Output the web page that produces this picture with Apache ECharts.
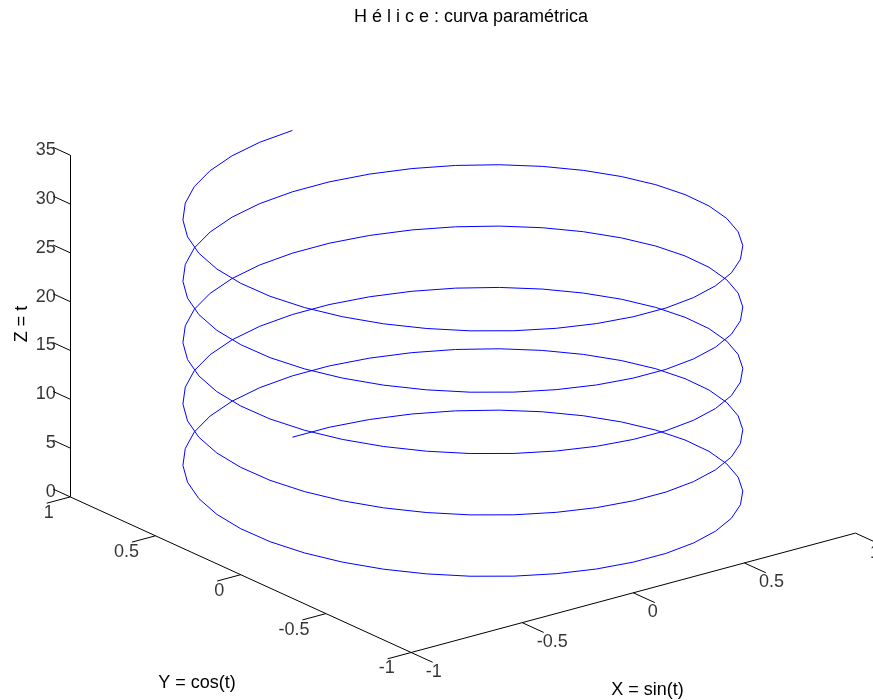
<!DOCTYPE html>
<html>
<head>
<meta charset="utf-8">
<script src="https://cdn.jsdelivr.net/npm/echarts@6/dist/echarts.min.js"></script>
<style>
  html, body { margin: 0; padding: 0; background: #ffffff; }
  #chart { width: 873px; height: 700px; }
</style>
</head>
<body>
<div id="chart"></div>
<script>
// Helix samples: X = sin(t), Y = cos(t), Z = t, five turns, 40 samples per turn
const helixX = [
  0, 0.156, 0.309, 0.454, 0.588, 0.707, 0.809, 0.891, 0.951, 0.988, 1, 0.988, 0.951, 0.891, 0.809, 0.707, 0.588, 0.454, 0.309, 0.156,
  0, -0.156, -0.309, -0.454, -0.588, -0.707, -0.809, -0.891, -0.951, -0.988, -1, -0.988, -0.951, -0.891, -0.809, -0.707, -0.588, -0.454, -0.309, -0.156,
  0, 0.156, 0.309, 0.454, 0.588, 0.707, 0.809, 0.891, 0.951, 0.988, 1, 0.988, 0.951, 0.891, 0.809, 0.707, 0.588, 0.454, 0.309, 0.156,
  0, -0.156, -0.309, -0.454, -0.588, -0.707, -0.809, -0.891, -0.951, -0.988, -1, -0.988, -0.951, -0.891, -0.809, -0.707, -0.588, -0.454, -0.309, -0.156,
  0, 0.156, 0.309, 0.454, 0.588, 0.707, 0.809, 0.891, 0.951, 0.988, 1, 0.988, 0.951, 0.891, 0.809, 0.707, 0.588, 0.454, 0.309, 0.156,
  0, -0.156, -0.309, -0.454, -0.588, -0.707, -0.809, -0.891, -0.951, -0.988, -1, -0.988, -0.951, -0.891, -0.809, -0.707, -0.588, -0.454, -0.309, -0.156,
  0, 0.156, 0.309, 0.454, 0.588, 0.707, 0.809, 0.891, 0.951, 0.988, 1, 0.988, 0.951, 0.891, 0.809, 0.707, 0.588, 0.454, 0.309, 0.156,
  0, -0.156, -0.309, -0.454, -0.588, -0.707, -0.809, -0.891, -0.951, -0.988, -1, -0.988, -0.951, -0.891, -0.809, -0.707, -0.588, -0.454, -0.309, -0.156,
  0, 0.156, 0.309, 0.454, 0.588, 0.707, 0.809, 0.891, 0.951, 0.988, 1, 0.988, 0.951, 0.891, 0.809, 0.707, 0.588, 0.454, 0.309, 0.156,
  0, -0.156, -0.309, -0.454, -0.588, -0.707, -0.809, -0.891, -0.951, -0.988, -1, -0.988, -0.951, -0.891, -0.809, -0.707, -0.588, -0.454, -0.309, -0.156,
  0
];
const helixY = [
  1, 0.988, 0.951, 0.891, 0.809, 0.707, 0.588, 0.454, 0.309, 0.156, 0, -0.156, -0.309, -0.454, -0.588, -0.707, -0.809, -0.891, -0.951, -0.988,
  -1, -0.988, -0.951, -0.891, -0.809, -0.707, -0.588, -0.454, -0.309, -0.156, 0, 0.156, 0.309, 0.454, 0.588, 0.707, 0.809, 0.891, 0.951, 0.988,
  1, 0.988, 0.951, 0.891, 0.809, 0.707, 0.588, 0.454, 0.309, 0.156, 0, -0.156, -0.309, -0.454, -0.588, -0.707, -0.809, -0.891, -0.951, -0.988,
  -1, -0.988, -0.951, -0.891, -0.809, -0.707, -0.588, -0.454, -0.309, -0.156, 0, 0.156, 0.309, 0.454, 0.588, 0.707, 0.809, 0.891, 0.951, 0.988,
  1, 0.988, 0.951, 0.891, 0.809, 0.707, 0.588, 0.454, 0.309, 0.156, 0, -0.156, -0.309, -0.454, -0.588, -0.707, -0.809, -0.891, -0.951, -0.988,
  -1, -0.988, -0.951, -0.891, -0.809, -0.707, -0.588, -0.454, -0.309, -0.156, 0, 0.156, 0.309, 0.454, 0.588, 0.707, 0.809, 0.891, 0.951, 0.988,
  1, 0.988, 0.951, 0.891, 0.809, 0.707, 0.588, 0.454, 0.309, 0.156, 0, -0.156, -0.309, -0.454, -0.588, -0.707, -0.809, -0.891, -0.951, -0.988,
  -1, -0.988, -0.951, -0.891, -0.809, -0.707, -0.588, -0.454, -0.309, -0.156, 0, 0.156, 0.309, 0.454, 0.588, 0.707, 0.809, 0.891, 0.951, 0.988,
  1, 0.988, 0.951, 0.891, 0.809, 0.707, 0.588, 0.454, 0.309, 0.156, 0, -0.156, -0.309, -0.454, -0.588, -0.707, -0.809, -0.891, -0.951, -0.988,
  -1, -0.988, -0.951, -0.891, -0.809, -0.707, -0.588, -0.454, -0.309, -0.156, 0, 0.156, 0.309, 0.454, 0.588, 0.707, 0.809, 0.891, 0.951, 0.988,
  1
];
const helixZ = [
  0, 0.157, 0.314, 0.471, 0.628, 0.785, 0.942, 1.100, 1.257, 1.414, 1.571, 1.728, 1.885, 2.042, 2.199, 2.356, 2.513, 2.670, 2.827, 2.985,
  3.142, 3.299, 3.456, 3.613, 3.770, 3.927, 4.084, 4.241, 4.398, 4.555, 4.712, 4.869, 5.027, 5.184, 5.341, 5.498, 5.655, 5.812, 5.969, 6.126,
  6.283, 6.440, 6.597, 6.754, 6.912, 7.069, 7.226, 7.383, 7.540, 7.697, 7.854, 8.011, 8.168, 8.325, 8.482, 8.639, 8.796, 8.954, 9.111, 9.268,
  9.425, 9.582, 9.739, 9.896, 10.053, 10.210, 10.367, 10.524, 10.681, 10.838, 10.996, 11.153, 11.310, 11.467, 11.624, 11.781, 11.938, 12.095, 12.252, 12.409,
  12.566, 12.723, 12.881, 13.038, 13.195, 13.352, 13.509, 13.666, 13.823, 13.980, 14.137, 14.294, 14.451, 14.608, 14.765, 14.923, 15.080, 15.237, 15.394, 15.551,
  15.708, 15.865, 16.022, 16.179, 16.336, 16.493, 16.650, 16.808, 16.965, 17.122, 17.279, 17.436, 17.593, 17.750, 17.907, 18.064, 18.221, 18.378, 18.535, 18.692,
  18.850, 19.007, 19.164, 19.321, 19.478, 19.635, 19.792, 19.949, 20.106, 20.263, 20.420, 20.577, 20.735, 20.892, 21.049, 21.206, 21.363, 21.520, 21.677, 21.834,
  21.991, 22.148, 22.305, 22.462, 22.619, 22.777, 22.934, 23.091, 23.248, 23.405, 23.562, 23.719, 23.876, 24.033, 24.190, 24.347, 24.504, 24.662, 24.819, 24.976,
  25.133, 25.290, 25.447, 25.604, 25.761, 25.918, 26.075, 26.232, 26.389, 26.546, 26.704, 26.861, 27.018, 27.175, 27.332, 27.489, 27.646, 27.803, 27.960, 28.117,
  28.274, 28.431, 28.588, 28.746, 28.903, 29.060, 29.217, 29.374, 29.531, 29.688, 29.845, 30.002, 30.159, 30.316, 30.473, 30.631, 30.788, 30.945, 31.102, 31.259,
  31.416
];

// Axis limits and ticks
const xLimits = [-1, 1];
const yLimits = [-1, 1];
const zLimits = [0, 35];
const xTicks = [-1, -0.5, 0, 0.5, 1];
const yTicks = [-1, -0.5, 0, 0.5, 1];
const zTicks = [0, 5, 10, 15, 20, 25, 30, 35];
const xTickLabels = ['-1', '-0.5', '0', '0.5', '1'];
const yTickLabels = ['-1', '-0.5', '0', '0.5', '1'];
const zTickLabels = ['0', '5', '10', '15', '20', '25', '30', '35'];

const titleText = 'H é l i c e : curva paramétrica';
const xTitle = 'X = sin(t)';
const yTitle = 'Y = cos(t)';
const zTitle = 'Z = t';

// Orthographic view (azimuth / elevation in degrees)
const AZ = -37.5;
const EL = 20.5;
const Z_BOX = 1.303;          // box height relative to the half-width of the x/y sides
const DEG = Math.PI / 180;
const ca = Math.cos(-AZ * DEG), sa = Math.sin(-AZ * DEG);
const se = Math.sin(EL * DEG), ce = Math.cos(EL * DEG);

function project(x, y, z) {
  const zn = (z - zLimits[0]) / (zLimits[1] - zLimits[0]);
  return [x * ca - y * sa, se * (x * sa + y * ca) + ce * Z_BOX * zn];
}

const helixData = helixX.map((x, i) => project(x, helixY[i], helixZ[i]));

// Box edges that carry the axes, plus their tick marks
const x0 = xLimits[0], y1 = yLimits[1], y0 = yLimits[0], z0 = zLimits[0];
const segments = [
  [project(x0, y1, zLimits[0]), project(x0, y1, zLimits[1])],   // Z axis
  [project(x0, y1, z0), project(x0, y0, z0)],                     // Y axis
  [project(x0, y0, z0), project(xLimits[1], y0, z0)]              // X axis
];
const Z_TICK = 0.05, Y_TICK = 0.053, X_TICK = 0.063;
zTicks.forEach(z => segments.push([project(x0, y1, z), project(x0, y1 + Z_TICK * 2, z)]));
yTicks.forEach(y => segments.push([project(x0, y, z0), project(x0 - Y_TICK * 2, y, z0)]));
xTicks.forEach(x => segments.push([project(x, y0, z0), project(x, y0 - X_TICK * 2, z0)]));

const FONT = '"Liberation Sans", Arial, Helvetica, sans-serif';
const FS = 18;

function labelSeries(points, names, pos, align) {
  return {
    type: 'scatter',
    symbolSize: 0,
    silent: true,
    data: points.map((p, i) => ({ value: p, name: names[i] })),
    label: {
      show: true,
      position: pos,
      align: align,
      verticalAlign: 'middle',
      formatter: '{b}',
      color: '#000',
      fontFamily: FONT,
      fontSize: FS
    },
    z: 5
  };
}

const chart = echarts.init(document.getElementById('chart'), null, { renderer: 'canvas' });
chart.setOption({
  animation: false,
  backgroundColor: '#ffffff',
  grid: { left: 0, right: 0, top: 0, bottom: 0, containLabel: false },
  xAxis: { type: 'value', min: -1.6530, max: 1.4648, show: false },
  yAxis: { type: 'value', min: -0.6607, max: 1.8393, show: false },
  graphic: [
    { type: 'text', x: 471, y: 17, style: { text: titleText, fill: '#000', font: FS + 'px ' + FONT, textAlign: 'center', textVerticalAlign: 'middle' } },
    { type: 'text', x: 647.5, y: 690, style: { text: xTitle, fill: '#000', font: FS + 'px ' + FONT, textAlign: 'center', textVerticalAlign: 'middle' } },
    { type: 'text', x: 197, y: 683, style: { text: yTitle, fill: '#000', font: FS + 'px ' + FONT, textAlign: 'center', textVerticalAlign: 'middle' } },
    { type: 'text', x: 22.5, y: 324, rotation: Math.PI / 2, style: { text: zTitle, fill: '#000', font: FS + 'px ' + FONT, textAlign: 'center', textVerticalAlign: 'middle' } }
  ],
  series: [
    {
      type: 'lines',
      coordinateSystem: 'cartesian2d',
      silent: true,
      data: segments.map(s => ({ coords: s })),
      lineStyle: { color: '#000', width: 1, opacity: 1 },
      z: 2
    },
    {
      type: 'line',
      data: helixData,
      showSymbol: false,
      silent: true,
      lineStyle: { color: '#0000ff', width: 1 },
      z: 3
    },
    labelSeries(zTicks.map(z => project(x0, y1, z)), zTickLabels, [-14.5, -5], 'right'),
    labelSeries(yTicks.map(y => project(x0, y, z0)), yTickLabels, [-16.5, 16], 'right'),
    labelSeries(xTicks.map(x => project(x, y0, z0)), xTickLabels, [14.5, 19.5], 'left')
  ]
});
</script>
</body>
</html>
